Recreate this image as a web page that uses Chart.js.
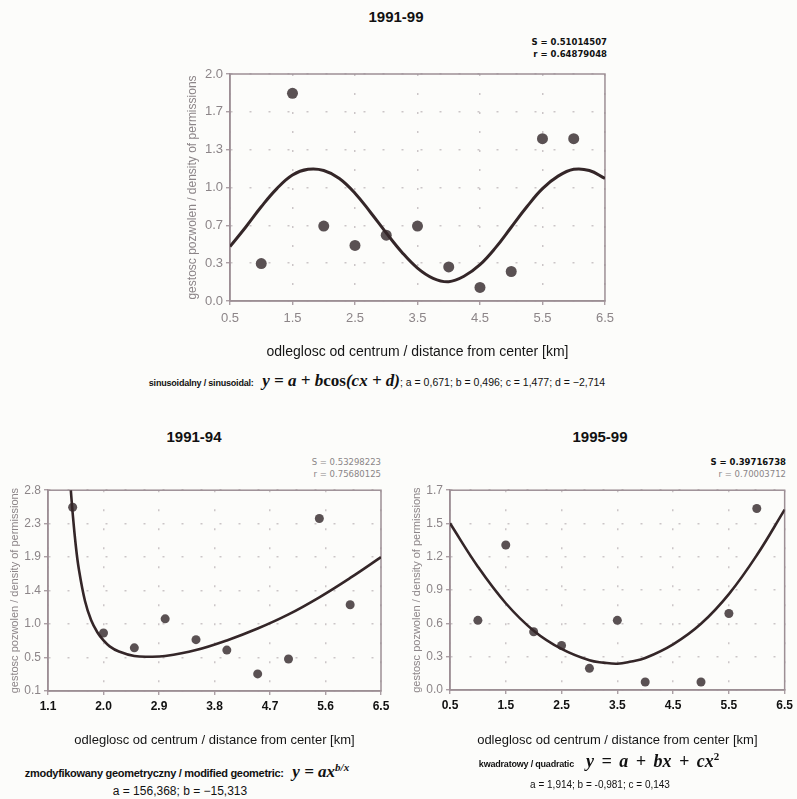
<!DOCTYPE html>
<html>
<head>
<meta charset="utf-8">
<script src="https://cdn.jsdelivr.net/npm/chart.js@4.4.1/dist/chart.umd.min.js"></script>
<style>
  html, body { margin: 0; padding: 0; background: #fcfcfa; }
  body { width: 797px; height: 799px; position: relative; overflow: hidden;
         font-family: 'Liberation Sans Narrow', 'Arial Narrow', 'Liberation Sans', sans-serif; color: #111; }
  canvas { position: absolute; }
  .t { position: absolute; white-space: nowrap; }
  .c { transform: translate(-50%, -50%); }
  .title { font-weight: bold; font-size: 15px; }
  .stat { font-family: 'DejaVu Sans', sans-serif; font-size: 8.5px; text-align: right; line-height: 12px; }
  .stat b { color: #111; }
  .stat .g { color: #8a8587; }
  .note { font-size: 11px; font-weight: bold; letter-spacing: -0.3px; }
  .note.s { font-size: 9px; letter-spacing: -0.2px; }
  .par { font-size: 12px; }
  .par.s { font-size: 10px; }
  .math { font-family: 'Liberation Serif', 'Times New Roman', serif; font-style: italic; font-weight: bold; font-size: 17px; }
  .math.w { font-size: 18px; word-spacing: 3px; }
  .math .n { font-style: normal; }
  sup { font-size: 11px; }
</style>
</head>
<body>

<div class="t c title" style="left:396px; top:16px;">1991-99</div>
<div class="t stat" style="right:190px; top:36px;"><b>S = 0.51014507</b><br><b>r = 0.64879048</b></div>
<canvas id="cAll" width="440" height="302" style="left:180px; top:62px;"></canvas>
<div class="t c" style="left:377px; top:381px;">
  <span class="note s">sinusoidalny / sinusoidal:</span>
  <span class="math">&nbsp;y = a + b<span class="n">cos</span>(cx + d)</span><span class="par s" style="font-size:10.5px">; a = 0,671; b = 0,496; c = 1,477; d = &minus;2,714</span>
</div>

<div class="t c title" style="left:194px; top:436px;">1991-94</div>
<div class="t stat" style="right:416px; top:456px;"><span class="g">S = 0.53298223</span><br><span class="g">r = 0.75680125</span></div>
<canvas id="cEarly" width="395" height="272" style="left:0px; top:480px;"></canvas>
<div class="t c" style="left:187px; top:771px;">
  <span class="note">zmodyfikowany geometryczny / modified geometric:</span>
  <span class="math">&nbsp;y = ax<sup>b/x</sup></span>
</div>
<div class="t c par" style="left:180px; top:791px;">a = 156,368; b = &minus;15,313</div>

<div class="t c title" style="left:600px; top:436px;">1995-99</div>
<div class="t stat" style="right:11px; top:456px;"><b>S = 0.39716738</b><br><span class="g">r = 0.70003712</span></div>
<canvas id="cLate" width="397" height="272" style="left:400px; top:480px;"></canvas>
<div class="t c" style="left:599px; top:761px;">
  <span class="note s">kwadratowy / quadratic</span>
  <span class="math w">&nbsp;y = a + bx + cx<sup class="n">2</sup></span>
</div>
<div class="t c par s" style="left:600px; top:784px;">a = 1,914; b = -0,981; c = 0,143</div>

<script>
// ---- 1991-99: observed densities and sinusoidal fit ----
const allX = [1, 1.5, 2, 2.5, 3, 3.5, 4, 4.5, 5, 5.5, 6];
const allY = [0.33, 1.83, 0.66, 0.49, 0.58, 0.66, 0.30, 0.12, 0.26, 1.43, 1.43];
const allFitX = [0.5, 0.75, 1, 1.25, 1.5, 1.75, 2, 2.25, 2.5, 2.75, 3, 3.25, 3.5,
                 3.75, 4, 4.25, 4.5, 4.75, 5, 5.25, 5.5, 5.75, 6, 6.25, 6.5];
const allFitY = [0.48, 0.65, 0.83, 0.99, 1.11, 1.16, 1.15, 1.08, 0.95, 0.78, 0.60, 0.43, 0.29,
                 0.20, 0.17, 0.22, 0.32, 0.47, 0.65, 0.83, 0.99, 1.10, 1.16, 1.15, 1.08];
const allXTicks = ['0.5', '1.5', '2.5', '3.5', '4.5', '5.5', '6.5'];
const allYTicks = ['0.0', '0.3', '0.7', '1.0', '1.3', '1.7', '2.0'];

// ---- 1991-94: observed densities and modified geometric fit ----
const earlyX = [1.5, 2, 2.5, 3, 3.5, 4, 4.5, 5, 5.5, 6];
const earlyY = [2.57, 0.88, 0.68, 1.07, 0.79, 0.65, 0.33, 0.53, 2.42, 1.26];
const earlyFitX = [1.47, 1.5, 1.55, 1.6, 1.7, 1.8, 1.9, 2.0, 2.1, 2.25, 2.5, 2.75, 3.0,
                   3.5, 4.0, 4.5, 5.0, 5.5, 6.0, 6.5];
const earlyFitY = [2.80, 2.49, 2.06, 1.74, 1.31, 1.05, 0.89, 0.78, 0.70, 0.63, 0.57, 0.56, 0.57,
                   0.65, 0.78, 0.94, 1.13, 1.36, 1.62, 1.90];
const earlyXTicks = ['1.1', '2.0', '2.9', '3.8', '4.7', '5.6', '6.5'];
const earlyYTicks = ['0.1', '0.5', '1.0', '1.4', '1.9', '2.3', '2.8'];

// ---- 1995-99: observed densities and quadratic fit ----
const lateX = [1, 1.5, 2, 2.5, 3, 3.5, 4, 5, 5.5, 6];
const lateY = [0.61, 1.27, 0.51, 0.39, 0.19, 0.61, 0.07, 0.07, 0.67, 1.59];
const lateFitX = [0.5, 1, 1.5, 2, 2.5, 3, 3.25, 3.5, 3.75, 4, 4.5, 5, 5.5, 6, 6.5];
const lateFitY = [1.46, 1.08, 0.76, 0.52, 0.36, 0.26, 0.24, 0.23, 0.25, 0.28, 0.40, 0.58, 0.84, 1.18, 1.58];
const lateXTicks = ['0.5', '1.5', '2.5', '3.5', '4.5', '5.5', '6.5'];
const lateYTicks = ['0.0', '0.3', '0.6', '0.9', '1.2', '1.5', '1.7'];

const X_TITLE = 'odleglosc od centrum / distance from center [km]';
const Y_TITLE = 'gestosc pozwolen / density of permissions';

const FONT = "'Liberation Sans Narrow', 'Arial Narrow', 'Liberation Sans', sans-serif";
const FRAME = '#9d8f95';
const DOT = '#cbc5c7';
const CURVE = '#342628';
const POINT = '#5a5153';
const GREY_TEXT = '#8c8588';

// evenly spaced tick positions between the axis limits
function evenTicks(min, max, n) {
  const out = [];
  for (let i = 0; i < n; i++) out.push(min + i * (max - min) / (n - 1));
  return out;
}

// closed box around the plotting area
const framePlugin = {
  id: 'frame',
  beforeDatasetsDraw(chart) {
    const { ctx, chartArea: a } = chart;
    ctx.save();
    ctx.strokeStyle = FRAME;
    ctx.lineWidth = 1.5;
    ctx.strokeRect(a.left, a.top, a.right - a.left, a.bottom - a.top);
    ctx.restore();
  }
};

function pairs(xs, ys) { return xs.map((x, i) => ({ x, y: ys[i] })); }

function build(id, o) {
  const xVals = o.xTicks.map(Number);
  const yVals = evenTicks(o.yMin, o.yMax, o.yTicks.length);
  return new Chart(document.getElementById(id), {
    type: 'scatter',
    data: {
      datasets: [
        { type: 'line', data: pairs(o.fitX, o.fitY), borderColor: CURVE, borderWidth: o.lineWidth,
          pointRadius: 0, tension: 0.4, fill: false, order: 0 },
        { data: pairs(o.px, o.py), backgroundColor: POINT, borderWidth: 0,
          pointRadius: o.pointRadius, order: 1 }
      ]
    },
    options: {
      responsive: false, animation: false, events: [],
      layout: { padding: { top: o.padTop, right: o.padRight, left: 0, bottom: 0 } },
      plugins: { legend: { display: false }, tooltip: { enabled: false } },
      scales: {
        x: {
          type: 'linear', min: xVals[0], max: xVals[xVals.length - 1],
          afterBuildTicks: s => { s.ticks = xVals.map(v => ({ value: v })); },
          afterFit: s => { s.height = o.xAxisH; },
          ticks: { callback: (v, i) => o.xTicks[i], color: o.xTickColor, autoSkip: false, maxRotation: 0,
                   padding: o.xTickPad, font: { family: FONT, size: o.xTickSize, weight: o.xTickWeight } },
          grid: { color: DOT, lineWidth: 1.5, tickColor: FRAME, tickLength: 4, tickWidth: 1.2, tickBorderDash: [] },
          border: { color: FRAME, width: 1.5, dash: [2, 17] },
          title: { display: true, text: X_TITLE, color: '#151515',
                   font: { family: FONT, size: o.xTitleSize }, padding: { top: 0, bottom: o.xTitlePad } }
        },
        y: {
          type: 'linear', min: o.yMin, max: o.yMax,
          afterBuildTicks: s => { s.ticks = yVals.map(v => ({ value: v })); },
          afterFit: s => { s.width = o.yAxisW; },
          ticks: { callback: (v, i) => o.yTicks[i], color: GREY_TEXT, autoSkip: false,
                   padding: 3, font: { family: FONT, size: o.yTickSize } },
          grid: { color: DOT, lineWidth: 1.5, tickColor: FRAME, tickLength: 4, tickWidth: 1.2, tickBorderDash: [] },
          border: { color: FRAME, width: 1.5, dash: [2, 17] },
          title: { display: true, text: Y_TITLE, color: GREY_TEXT,
                   font: { family: FONT, size: o.yTitleSize }, padding: { top: o.yTitlePad, bottom: 0 } }
        }
      }
    },
    plugins: [framePlugin]
  });
}

build('cAll', {
  px: allX, py: allY, fitX: allFitX, fitY: allFitY,
  xTicks: allXTicks, yTicks: allYTicks, yMin: 0, yMax: 2,
  lineWidth: 3, pointRadius: 5.5,
  padTop: 12, padRight: 14, xAxisH: 63, yAxisW: 50,
  xTickColor: GREY_TEXT, xTickSize: 13, xTickWeight: 'normal', xTickPad: 6, yTickSize: 13,
  xTitleSize: 14, xTitlePad: 3, yTitleSize: 12, yTitlePad: 5
});

build('cEarly', {
  px: earlyX, py: earlyY, fitX: earlyFitX, fitY: earlyFitY,
  xTicks: earlyXTicks, yTicks: earlyYTicks, yMin: 0.1, yMax: 2.8,
  lineWidth: 2.6, pointRadius: 4.5,
  padTop: 9, padRight: 14, xAxisH: 61, yAxisW: 48,
  xTickColor: '#111', xTickSize: 12, xTickWeight: 'bold', xTickPad: 4, yTickSize: 12,
  xTitleSize: 13, xTitlePad: 4, yTitleSize: 11, yTitlePad: 8
});

build('cLate', {
  px: lateX, py: lateY, fitX: lateFitX, fitY: lateFitY,
  xTicks: lateXTicks, yTicks: lateYTicks, yMin: 0, yMax: 1.75,
  lineWidth: 2.6, pointRadius: 4.5,
  padTop: 9, padRight: 11, xAxisH: 62, yAxisW: 50,
  xTickColor: '#111', xTickSize: 12, xTickWeight: 'bold', xTickPad: 4, yTickSize: 12,
  xTitleSize: 13, xTitlePad: 4, yTitleSize: 11, yTitlePad: 10
});
</script>
</body>
</html>
